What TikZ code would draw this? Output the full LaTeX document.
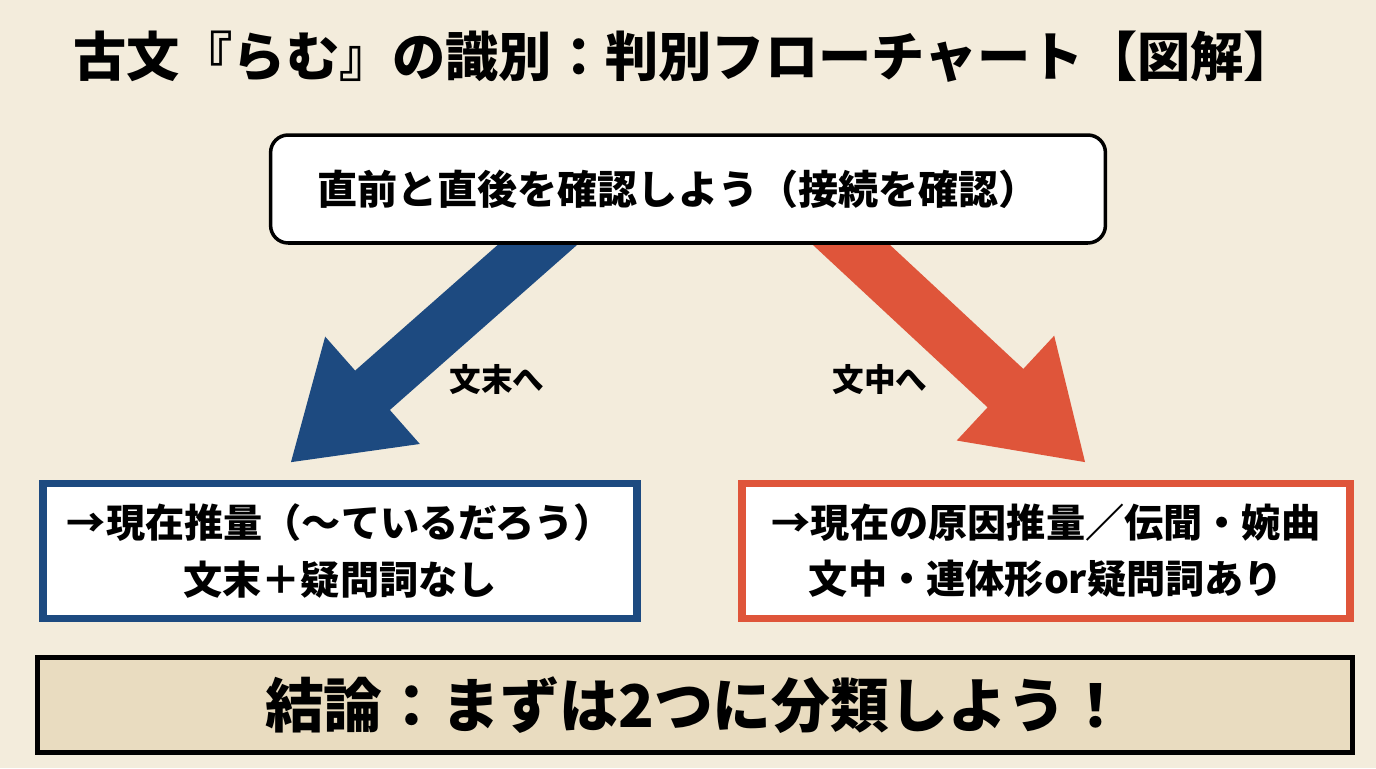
\documentclass[tikz,border=0pt]{standalone}
\usepackage{fontspec}
\setmainfont{Noto Sans CJK JP}
\usetikzlibrary{arrows.meta}
\definecolor{paper}{HTML}{F3ECDC}
\definecolor{tan}{HTML}{E9DCC0}
\definecolor{navy}{HTML}{1D4A80}
\definecolor{brick}{HTML}{DF553A}
\begin{document}
\begin{tikzpicture}
	[x=0.02cm, y=-0.02cm,
	every node/.style={font=\bfseries},
	bigarrow/.style={line width=1.05cm,-{Triangle[length=2.2cm,width=2.7cm]}},
	resultbox/.style={draw,fill=white,line width=4.5pt,minimum width=11.9cm,minimum height=2.7cm,align=center,font=\bfseries\fontsize{22.3}{32}\selectfont}]
	\fill[paper] (0,0) rectangle (1376,768);
	\useasboundingbox (0,0) rectangle (1376,768);
	\node (title) at (685,57) {\fontsize{30.3}{34}\selectfont 古文『らむ』の識別：判別フローチャート【図解】};
	% arrows first, box hides tails
	\coordinate (bstart) at (560,225);
	\coordinate (bend) at (290,463);
	\coordinate (rstart) at (830,225);
	\coordinate (rend) at (1086,463);
	\draw[bigarrow,navy] (bstart) -- (bend);
	\draw[bigarrow,brick] (rstart) -- (rend);
	\node (check) [draw,fill=white,rounded corners=10pt,line width=2pt,minimum width=16.7cm,minimum height=2.16cm]
		at (688,189) {};
	\node (checktxt) at (678,189) {\fontsize{22.8}{26}\selectfont 直前と直後を確認しよう（接続を確認）};
	\node (lblend) at (497,380) {\fontsize{18}{20}\selectfont 文末へ};
	\node (lblmid) at (880,380) {\fontsize{18}{20}\selectfont 文中へ};
	\node (suiryo) [resultbox,draw=navy] at (340,551) {→現在推量（〜ているだろう）\\文末＋疑問詞なし};
	\node (genin) [resultbox,draw=brick,minimum width=12.15cm] at (1046,551) {→現在の原因推量／伝聞・婉曲\\文中・連体形or疑問詞あり};
	\node (concl) [draw,fill=tan,line width=3pt,minimum width=26.3cm,minimum height=1.9cm]
		at (695,705) {\fontsize{33.5}{38}\selectfont 結論：まずは2つに分類しよう！};
\end{tikzpicture}
\end{document}
